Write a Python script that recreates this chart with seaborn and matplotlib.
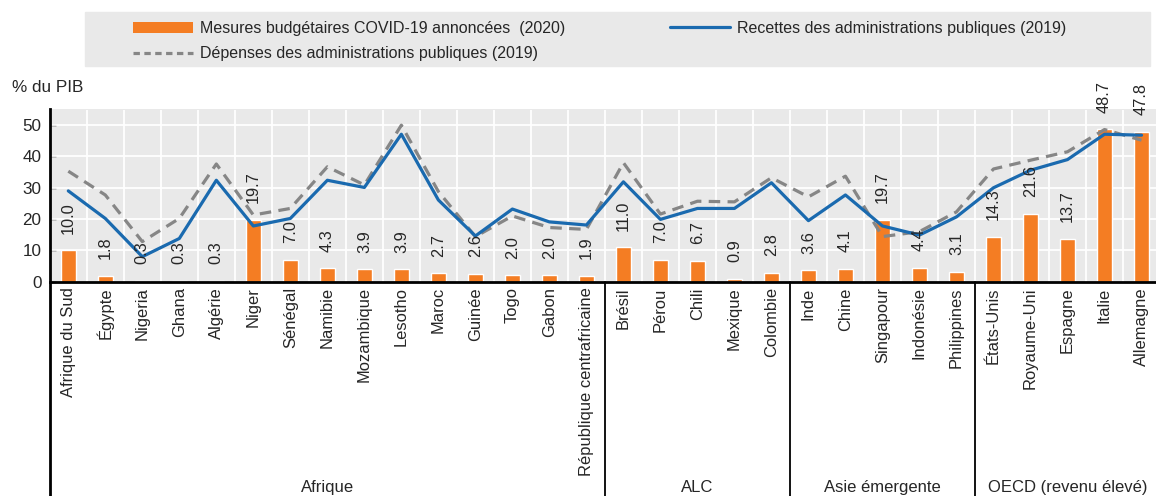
import numpy as np
import pandas as pd
import matplotlib
matplotlib.use("Agg")
import matplotlib.pyplot as plt
from matplotlib.patches import Patch, Rectangle
from matplotlib.lines import Line2D
import seaborn as sns

countries = ["Afrique du Sud", "Égypte", "Nigeria", "Ghana", "Algérie", "Niger", "Sénégal",
             "Namibie", "Mozambique", "Lesotho", "Maroc", "Guinée", "Togo", "Gabon",
             "République centrafricaine",
             "Brésil", "Pérou", "Chili", "Mexique", "Colombie",
             "Inde", "Chine", "Singapour", "Indonésie", "Philippines",
             "États-Unis", "Royaume-Uni", "Espagne", "Italie", "Allemagne"]
groups = ["Afrique", "ALC", "Asie émergente", "OECD (revenu élevé)"]
group_sizes = [15, 5, 5, 5]

covid = [10.0, 1.8, 0.3, 0.3, 0.3, 19.7, 7.0, 4.3, 3.9, 3.9, 2.7, 2.6, 2.0, 2.0, 1.9,
         11.0, 7.0, 6.7, 0.9, 2.8,
         3.6, 4.1, 19.7, 4.4, 3.1,
         14.3, 21.6, 13.7, 48.7, 47.8]
revenue = [29.0, 20.2, 8.0, 13.8, 32.4, 17.8, 20.2, 32.4, 30.1, 47.1, 26.1, 14.6, 23.2, 19.1, 18.1,
           31.9, 19.9, 23.4, 23.4, 31.6,
           19.5, 27.7, 17.8, 14.9, 20.7,
           30.0, 35.6, 39.0, 47.1, 46.8]
spending = [35.3, 27.7, 12.8, 20.2, 37.6, 21.3, 23.4, 36.7, 30.9, 50.0, 28.8, 14.4, 21.0, 17.3, 16.7,
            38.0, 21.6, 25.7, 25.5, 33.2,
            27.1, 33.7, 14.4, 16.0, 22.3,
            36.0, 38.8, 41.5, 48.6, 45.2]
yticks = [0, 10, 20, 30, 40, 50]

lab_covid = "Mesures budgétaires COVID-19 annoncées  (2020)"
lab_rev = "Recettes des administrations publiques (2019)"
lab_dep = "Dépenses des administrations publiques (2019)"

ORANGE = "#F47D23"
BLUE = "#1A6AAF"
GREY = "#868686"
BG = "#E9E9E9"

sns.set_theme(style="white")
plt.rcParams["font.family"] = ["Liberation Sans", "DejaVu Sans"]

W, H = 1156, 496
fig = plt.figure(figsize=(W / 100, H / 100), dpi=100)

left_px, right_px = 49.8, 1160.0
zero_px, top_px = 281.7, 109.5
ax = fig.add_axes([left_px / W, 1 - zero_px / H, (right_px - left_px) / W, (zero_px - top_px) / H])
ax.set_facecolor(BG)

n = len(countries)
df = pd.DataFrame({"pays": countries, "covid": covid, "rev": revenue, "dep": spending,
                   "pos": np.arange(n)})

sns.barplot(data=df, x="pays", y="covid", color=ORANGE, width=0.4, saturation=1,
            ax=ax, zorder=3)
ax.bar_label(ax.containers[0], fmt="%.1f", rotation=90, padding=12, fontsize=11.8,
             clip_on=False, zorder=5)

sns.lineplot(data=df, x="pos", y="dep", color=GREY, lw=2.3, dashes=False, ax=ax,
             zorder=4, legend=False)
ax.lines[-1].set_dashes([3.6, 2.3])
sns.lineplot(data=df, x="pos", y="rev", color=BLUE, lw=2.3, ax=ax, zorder=4, legend=False)

ax.set_xlim(-0.5, n - 0.5)
ax.set_ylim(0, 55)
ax.set_yticks(yticks)
ax.set_yticklabels([str(t) for t in yticks], fontsize=12.3)
ax.set_xticks(np.arange(n))
ax.set_xticklabels(countries, rotation=90, fontsize=11.9, va="top")
ax.tick_params(axis="x", length=0, pad=4)
ax.tick_params(axis="y", direction="in", length=4, width=1, color="black", pad=6, left=True)
ax.set_xlabel("")
ax.set_ylabel("")

# grid
for t in yticks[1:]:
    ax.axhline(t, color="white", lw=1.3, zorder=1)
for b in np.arange(n - 1) + 0.5:
    ax.axvline(b, color="white", lw=1.3, zorder=1)

for s in ["top", "right"]:
    ax.spines[s].set_visible(False)
ax.spines["left"].set_color("black")
ax.spines["left"].set_linewidth(2)
ax.spines["bottom"].set_color("black")
ax.spines["bottom"].set_linewidth(2)
ax.spines["bottom"].set_zorder(6)

# group separators and labels
ybot = -(H - zero_px) / (zero_px - top_px)
trans = ax.get_xaxis_transform()
start = -0.5
for i, (g, sz) in enumerate(zip(groups, group_sizes)):
    end = start + sz
    ax.plot([start, start], [0, ybot], transform=trans, color="black",
            lw=2 if i == 0 else 1.3, clip_on=False, zorder=6)
    ax.text((start + end) / 2, -(480 - zero_px) / (zero_px - top_px), g, transform=trans,
            ha="center", va="top", fontsize=12, clip_on=False)
    start = end

fig.text(12 / W, 1 - 87 / H, "% du PIB", ha="left", va="center", fontsize=12.3)

# legend
fig.patches.append(Rectangle((85 / W, 1 - 66 / H), (1150 - 85) / W, 54 / H,
                             transform=fig.transFigure, color=BG, zorder=0))
h_covid = Patch(facecolor=ORANGE, edgecolor="none")
h_dep = Line2D([], [], color=GREY, lw=2.3, dashes=[2, 1.4])
h_rev = Line2D([], [], color=BLUE, lw=2.3)
leg1 = fig.legend([h_covid, h_dep], [lab_covid, lab_dep], loc="upper left",
                  bbox_to_anchor=(120 / W, 1 - 8 / H), frameon=False, fontsize=11.5,
                  handlelength=3.8, handleheight=0.7, handletextpad=0.4, labelspacing=0.65,
                  borderpad=0.3)
leg2 = fig.legend([h_rev], [lab_rev], loc="upper left",
                  bbox_to_anchor=(657 / W, 1 - 8 / H), frameon=False, fontsize=11.5,
                  handlelength=3.8, handletextpad=0.4, borderpad=0.3)

fig.savefig("out.png", dpi=100)
